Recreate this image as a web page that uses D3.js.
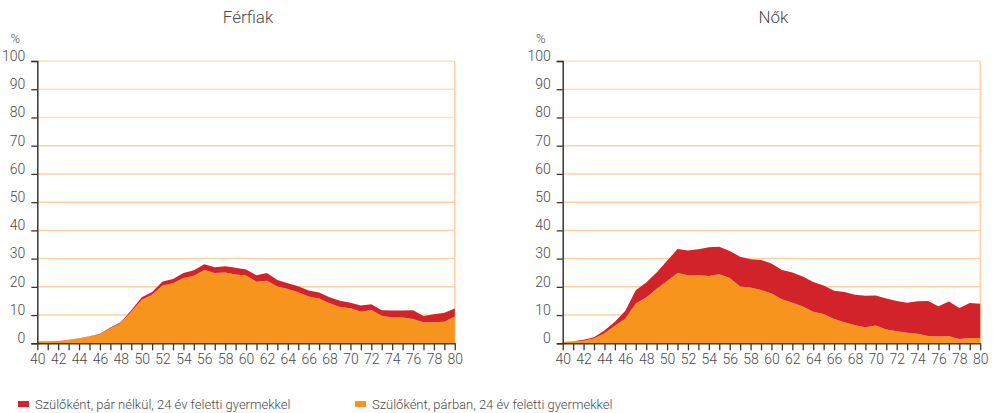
<!DOCTYPE html>
<html>
<head>
<meta charset="utf-8">
<script src="https://cdn.jsdelivr.net/npm/d3@7"></script>
<style>
  html, body { margin: 0; padding: 0; background: #fff; }
  #chart { width: 993px; height: 413px; }
  text { font-family: Roboto, "Open Sans", sans-serif; font-weight: 300; fill: #4a4a4a; }
</style>
</head>
<body>
<div id="chart"></div>
<script>
const ages = d3.range(40, 81);
const xTickLabels = d3.range(40, 81, 2);
const yTickLabels = d3.range(0, 101, 10);
const seriesNames = ['Szülőként, pár nélkül, 24 év feletti gyermekkel', 'Szülőként, párban, 24 év feletti gyermekkel'];

// férfiak
const menCouple = [0.6, 0.6, 0.7, 1.2, 1.7, 2.4, 3.2, 5.3, 7.1, 11.2, 15.4, 17.2, 20.5, 21.3, 23.1, 23.9, 26.0, 24.9, 25.1, 24.4,
                   24.0, 21.8, 22.2, 20.1, 19.2, 18.1, 16.6, 15.9, 14.2, 12.9, 12.4, 11.2, 11.8, 9.8, 9.1, 9.1, 8.6, 7.5, 7.5, 7.6, 9.5];
const menSingle = [0.1, 0.1, 0.1, 0.1, 0.1, 0.1, 0.2, 0.3, 0.4, 0.5, 0.9, 1.0, 1.4, 1.5, 1.8, 2.0, 2.0, 2.0, 2.2, 2.4,
                   2.1, 2.3, 2.7, 2.3, 2.1, 2.1, 2.1, 2.1, 2.1, 2.2, 2.0, 2.2, 2.0, 1.9, 2.5, 2.5, 3.1, 2.2, 2.8, 3.2, 2.8];
// nők
const womenCouple = [0.4, 0.6, 0.9, 1.7, 3.6, 6.2, 8.8, 14.1, 16.2, 19.3, 22.1, 24.9, 24.1, 24.1, 23.8, 24.5, 23.1, 20.1, 19.8, 18.9,
                     17.6, 15.6, 14.4, 13.0, 11.2, 10.4, 8.6, 7.5, 6.4, 5.7, 6.3, 4.9, 4.3, 3.7, 3.4, 2.6, 2.4, 2.5, 1.5, 1.9, 1.9];
const womenSingle = [0.1, 0.1, 0.4, 0.4, 0.9, 1.4, 2.7, 4.7, 5.3, 5.8, 7.1, 8.5, 8.8, 9.2, 10.2, 9.7, 9.6, 10.6, 10.0, 10.6,
                     10.7, 10.4, 10.7, 10.7, 10.5, 10.1, 10.0, 10.7, 10.8, 11.1, 10.6, 11.0, 10.7, 10.7, 11.5, 12.4, 10.7, 12.3, 11.0, 12.4, 12.1];

const colorRule = {
  'single': '#d2232a',
  'couple': '#f7941d',
};

const svg = d3.select('#chart')
              .append('svg')
              .attr('width', 993)
              .attr('height', 413);

function drawPanel(cfg){
  let margin = {top: 61, bottom: 70},
      height_svg = 413,
      g = svg.append('g').attr('id', cfg.id);
  let xScale = d3.scaleLinear()
                .domain([40, 80])
                .range([cfg.left, cfg.right]);
  let yScale = d3.scaleLinear()
                .domain([0, 100])
                .range([height_svg - margin.bottom + 0.3, margin.top]);

  let rows = ages.map((a, i) => ({age: a, couple: cfg.couple[i], single: cfg.single[i]}));
  let stacked = d3.stack().keys(['couple', 'single'])(rows);

  // rácsvonalak
  g.append('g')
    .selectAll('line')
    .data(yTickLabels.filter(d => d > 0))
    .enter().append('line')
      .attr('x1', xScale(40))
      .attr('x2', xScale(80))
      .attr('y1', d => yScale(d))
      .attr('y2', d => yScale(d))
      .attr('stroke', d => d >= 80 ? '#fde0c2' : '#fcd3a4')
      .attr('stroke-width', 1.5);
  g.append('line')
    .attr('x1', xScale(80)).attr('x2', xScale(80))
    .attr('y1', yScale(100)).attr('y2', yScale(0))
    .attr('stroke', '#fcd3a4')
    .attr('stroke-width', 1.5);

  let area = d3.area()
              .x(d => xScale(d.data.age))
              .y0(d => yScale(d[0]))
              .y1(d => yScale(d[1]));

  g.append('g')
    .selectAll('path')
    .data(stacked)
    .enter().append('path')
      .attr('fill', d => colorRule[d.key])
      .attr('d', area);

  let yAxis = gg => gg.attr('transform', `translate(${cfg.left}, 0)`)
                  .call(d3.axisLeft(yScale).tickValues(yTickLabels).tickSize(6).tickPadding(6))
                  .call(gg => gg.select('.domain').attr('stroke', '#3d3530').attr('stroke-width', 1.5))
                  .call(gg => gg.selectAll('.tick line').attr('stroke', '#3d3530').attr('stroke-width', 1.3))
                  .call(gg => gg.selectAll('.tick text')
                              .attr('font-size', 14)
                              .attr('dy', '-0.05em'));
  let xAxis = gg => gg.attr('transform', `translate(0, ${yScale(0)})`)
                  .call(d3.axisBottom(xScale).tickValues(ages).tickSize(7).tickSizeOuter(0)
                          .tickFormat(d => d % 2 === 0 ? d : ''))
                  .call(gg => gg.select('.domain').attr('stroke', '#3d3530').attr('stroke-width', 1.5))
                  .call(gg => gg.selectAll('.tick line').attr('stroke', '#3d3530').attr('stroke-width', 1.3))
                  .call(gg => gg.selectAll('.tick text')
                              .attr('font-size', 14)
                              .attr('y', 11));
  g.append('g').call(yAxis).attr('font-family', null);
  g.append('g').call(xAxis).attr('font-family', null);

  g.append('text')
    .attr('x', cfg.left - 22)
    .attr('y', 43)
    .attr('text-anchor', 'middle')
    .attr('font-size', 13)
    .text('%');
  g.append('text')
    .attr('x', (cfg.left + cfg.right) / 2 + 2)
    .attr('y', 23)
    .attr('text-anchor', 'middle')
    .attr('font-size', 17)
    .text(cfg.title);
}

drawPanel({id: 'g_men', title: 'Férfiak', left: 37.3, right: 454.8, couple: menCouple, single: menSingle});
drawPanel({id: 'g_women', title: 'Nők', left: 562.7, right: 980.2, couple: womenCouple, single: womenSingle});

// jelmagyarázat
let legend = svg.append('g').attr('id', 'g_legend')
              .selectAll('g')
              .data([{key: 'single', x: 18}, {key: 'couple', x: 355}])
              .enter().append('g')
                .attr('transform', d => `translate(${d.x}, 404)`);
legend.append('rect')
  .attr('x', 0).attr('y', -3)
  .attr('width', 11).attr('height', 6)
  .attr('fill', d => colorRule[d.key]);
legend.append('text')
  .attr('x', 17)
  .attr('y', 5)
  .attr('font-size', 13)
  .text((d, i) => seriesNames[i]);
</script>
</body>
</html>
